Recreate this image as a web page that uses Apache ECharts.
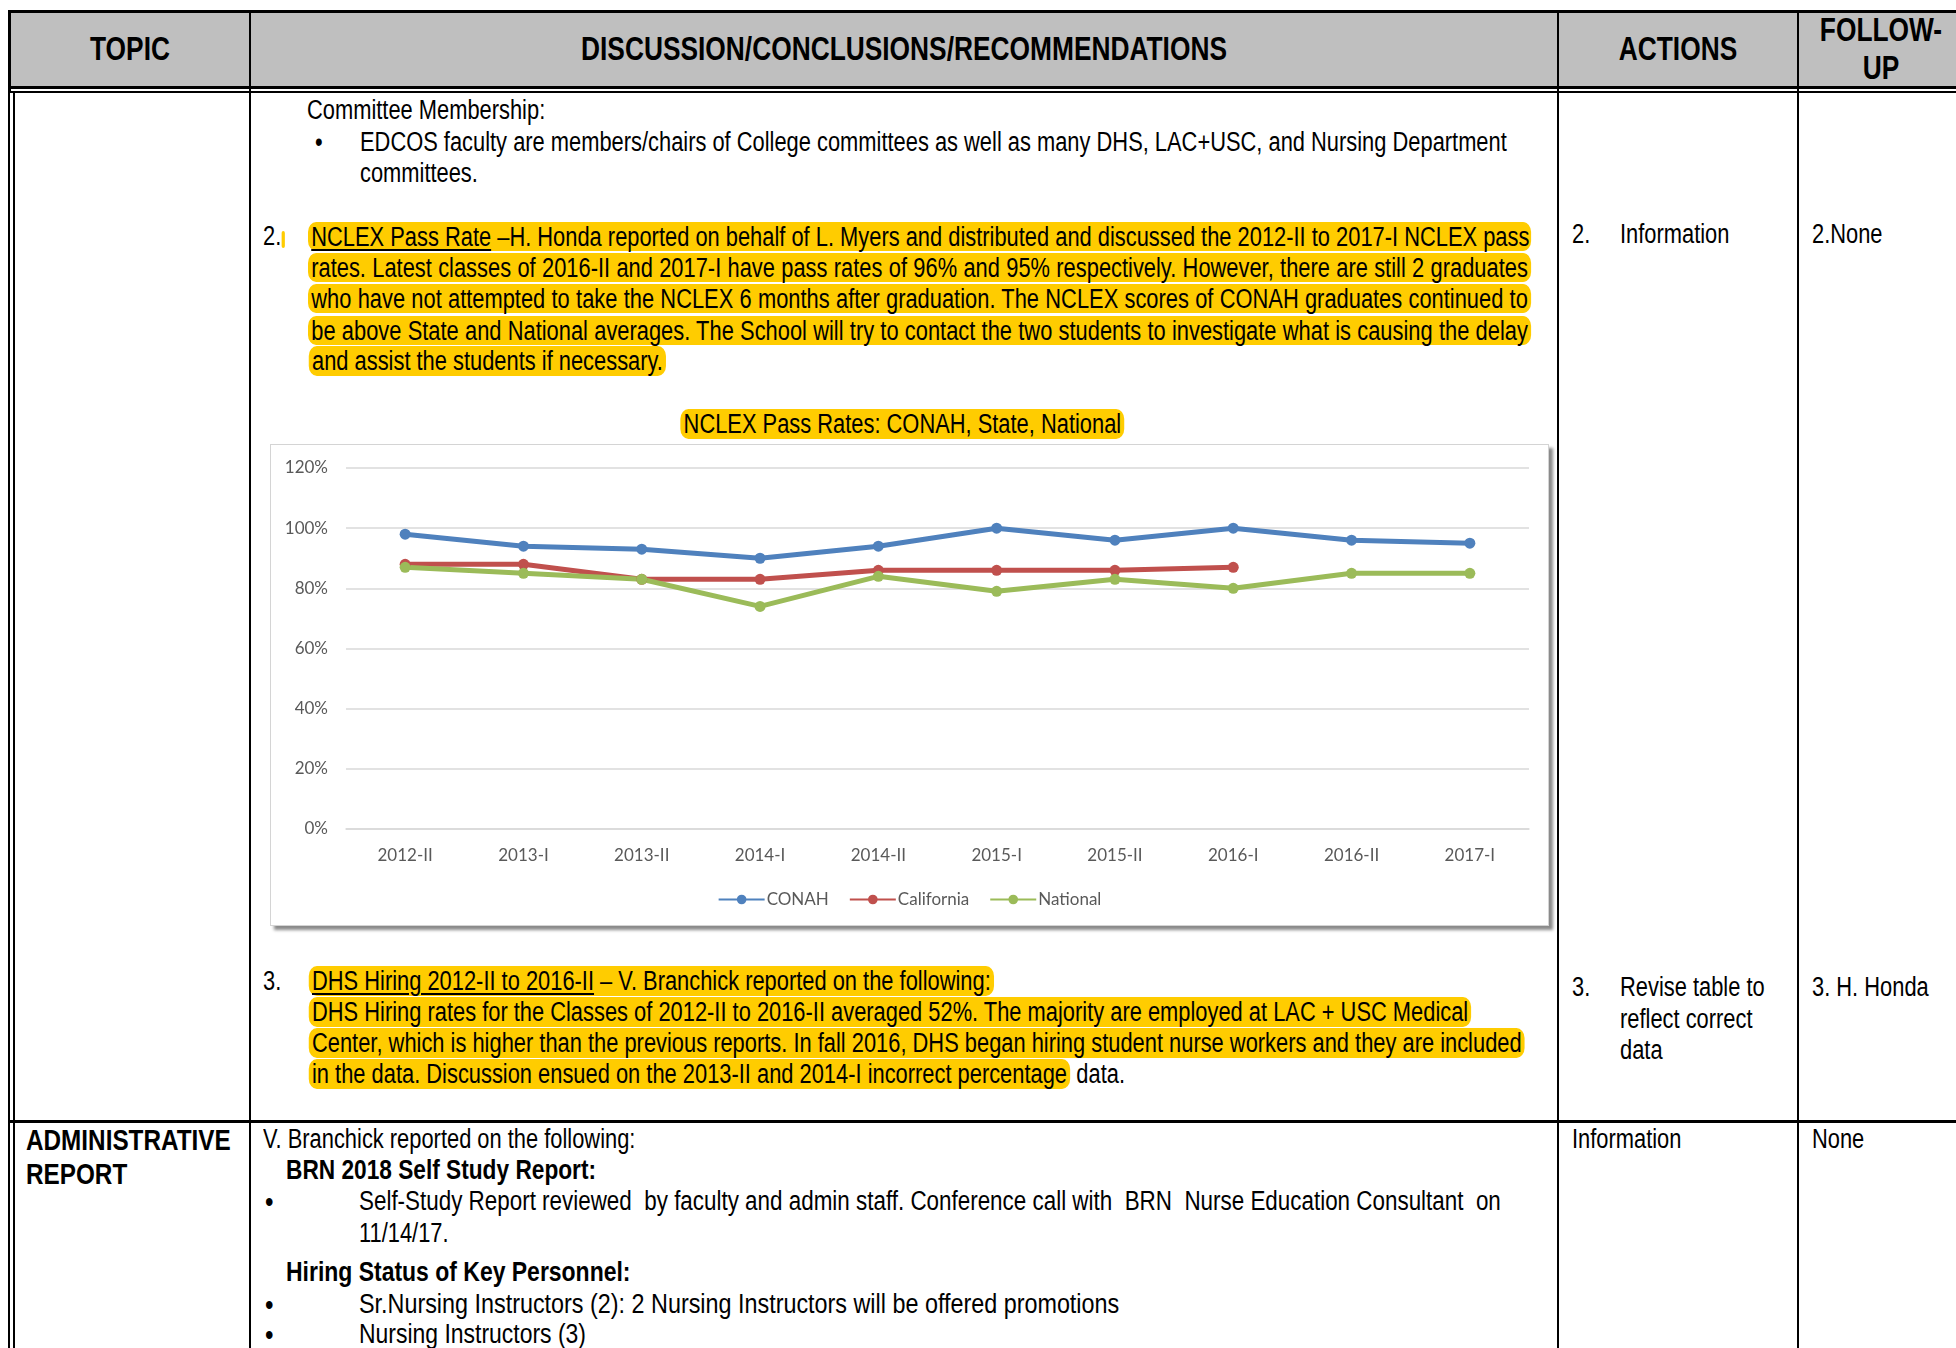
<!DOCTYPE html>
<html>
<head>
<meta charset="utf-8">
<script src="https://cdn.jsdelivr.net/npm/echarts@6/dist/echarts.min.js"></script>
<style>
  html, body { margin: 0; padding: 0; }
  body {
    width: 1956px; height: 1348px; overflow: hidden; position: relative;
    background: #fff;
    font-family: "Liberation Sans", Arial, sans-serif;
    font-size: 27px; color: #000;
  }
  .ln { position: absolute; background: #000; }
  /* narrow look: Arial Narrow is not installed, so squeeze Liberation Sans */
  .t {
    position: absolute; white-space: pre; line-height: 31px; height: 31px;
    transform: scaleX(0.81); transform-origin: 0 0;
  }
  .c { transform: translateX(-50%) scaleX(0.81); transform-origin: 50% 0; }
  .b { font-weight: bold; font-size: 28px; }
  .hd { font-weight: bold; font-size: 32.5px; }
  .hl { background: #ffcc00; border-radius: 10px; padding: 0 4px; margin-left: -4px; }
  .jl {
    white-space: nowrap; text-align: justify; text-align-last: justify;
    width: 1502px; background: #ffcc00; border-radius: 10px;
    padding: 0 4px; margin-left: -4px; height: 29px; line-height: 30px;
  }
  u { text-underline-offset: 3px; text-decoration-thickness: 2px; }
  #chart {
    position: absolute; left: 270px; top: 444px; width: 1277px; height: 480px;
    border: 1px solid #d4d4d4; box-shadow: 4px 4px 3px #8a8a8a; background: #fff;
  }
</style>
</head>
<body>
<!-- table frame -->
<div class="ln" style="left:10px;top:12px;width:1946px;height:74px;background:#bfbfbf"></div>
<div class="ln" style="left:8px;top:10px;width:1948px;height:3px"></div>
<div class="ln" style="left:8px;top:86px;width:1948px;height:3px"></div>
<div class="ln" style="left:8px;top:91px;width:1948px;height:2px"></div>
<div class="ln" style="left:8px;top:10px;width:3px;height:83px"></div>
<div class="ln" style="left:8px;top:91px;width:2px;height:1257px"></div>
<div class="ln" style="left:13px;top:91px;width:2px;height:1257px"></div>
<div class="ln" style="left:249px;top:10px;width:2px;height:1338px"></div>
<div class="ln" style="left:1557px;top:10px;width:2px;height:1338px"></div>
<div class="ln" style="left:1797px;top:10px;width:2px;height:1338px"></div>
<div class="ln" style="left:8px;top:1120px;width:1948px;height:3px"></div>

<!-- header -->
<div class="t hd c" style="left:130px;top:34px">TOPIC</div>
<div class="t hd c" style="left:904px;top:34px">DISCUSSION/CONCLUSIONS/RECOMMENDATIONS</div>
<div class="t hd c" style="left:1678px;top:34px">ACTIONS</div>
<div class="t hd c" style="left:1881px;top:15px">FOLLOW-</div>
<div class="t hd c" style="left:1881px;top:53px">UP</div>

<!-- row 1 -->
<div class="t" style="left:307px;top:95px">Committee Membership:</div>
<div class="t" style="left:315px;top:127px">•</div>
<div class="t" style="left:360px;top:127px">EDCOS faculty are members/chairs of College committees as well as many DHS, LAC+USC, and Nursing Department</div>
<div class="t" style="left:360px;top:158px">committees.</div>

<div class="t" style="left:263px;top:221px">2.<span style="background:#ffcc00;border-radius:6px;font-size:16px">&nbsp;</span></div>
<div class="t jl" style="left:312px;top:222px"><u>NCLEX Pass Rate</u> –H. Honda reported on behalf of L. Myers and distributed and discussed the 2012-II to 2017-I NCLEX pass</div>
<div class="t jl" style="left:312px;top:253px">rates. Latest classes of 2016-II and 2017-I have pass rates of 96% and 95% respectively. However, there are still 2 graduates</div>
<div class="t jl" style="left:312px;top:284px">who have not attempted to take the NCLEX 6 months after graduation. The NCLEX scores of CONAH graduates continued to</div>
<div class="t jl" style="left:312px;top:316px">be above State and National averages. The School will try to contact the two students to investigate what is causing the delay</div>
<div class="t" style="left:312px;top:346px"><span class="hl">and assist the students if necessary.</span></div>

<div class="t c" style="left:904px;top:409px"><span class="hl">NCLEX Pass Rates: CONAH, State, National</span></div>
<div id="chart"></div>

<div class="t" style="left:263px;top:966px">3.</div>
<div class="t" style="left:312px;top:966px"><span class="hl"><u>DHS Hiring 2012-II to 2016-II</u> – V. Branchick reported on the following:</span></div>
<div class="t" style="left:312px;top:997px"><span class="hl">DHS Hiring rates for the Classes of 2012-II to 2016-II averaged 52%. The majority are employed at LAC + USC Medical</span></div>
<div class="t" style="left:312px;top:1028px"><span class="hl">Center, which is higher than the previous reports. In fall 2016, DHS began hiring student nurse workers and they are included</span></div>
<div class="t" style="left:312px;top:1059px"><span class="hl">in the data. Discussion ensued on the 2013-II and 2014-I incorrect percentage</span> data.</div>

<div class="t" style="left:1572px;top:219px">2.</div>
<div class="t" style="left:1620px;top:219px">Information</div>
<div class="t" style="left:1812px;top:219px">2.None</div>
<div class="t" style="left:1572px;top:972px">3.</div>
<div class="t" style="left:1620px;top:972px">Revise table to</div>
<div class="t" style="left:1620px;top:1004px">reflect correct</div>
<div class="t" style="left:1620px;top:1035px">data</div>
<div class="t" style="left:1812px;top:972px">3. H. Honda</div>

<!-- row 2 -->
<div class="t b" style="left:26px;top:1124px;font-size:30px">ADMINISTRATIVE</div>
<div class="t b" style="left:26px;top:1158px;font-size:30px">REPORT</div>
<div class="t" style="left:263px;top:1124px">V. Branchick reported on the following:</div>
<div class="t b" style="left:286px;top:1154px">BRN 2018 Self Study Report:</div>
<div class="t" style="left:265px;top:1186px;font-size:30px">•</div>
<div class="t" style="left:359px;top:1186px;transform:scaleX(0.83)">Self-Study Report reviewed  by faculty and admin staff. Conference call with  BRN  Nurse Education Consultant  on</div>
<div class="t" style="left:359px;top:1218px">11/14/17.</div>
<div class="t b" style="left:286px;top:1256px;transform:scaleX(0.82)">Hiring Status of Key Personnel:</div>
<div class="t" style="left:265px;top:1289px;font-size:30px">•</div>
<div class="t" style="left:359px;top:1289px;transform:scaleX(0.865)">Sr.Nursing Instructors (2): 2 Nursing Instructors will be offered promotions</div>
<div class="t" style="left:265px;top:1319px;font-size:30px">•</div>
<div class="t" style="left:359px;top:1319px;transform:scaleX(0.85)">Nursing Instructors (3)</div>
<div class="t" style="left:1572px;top:1124px">Information</div>
<div class="t" style="left:1812px;top:1124px">None</div>

<script>
const categories = ['2012-II', '2013-I', '2013-II', '2014-I', '2014-II', '2015-I', '2015-II', '2016-I', '2016-II', '2017-I'];
const conah = [98, 94, 93, 90, 94, 100, 96, 100, 96, 95];
const california = [88, 88, 83, 83, 86, 86, 86, 87, null, null];
const national = [87, 85, 83, 74, 84, 79, 83, 80, 85, 85];
const yMin = 0, yMax = 120, yStep = 20;

const chart = echarts.init(document.getElementById('chart'));

const labelFont = {
  fontFamily: 'Lato, "Open Sans", sans-serif',
  fontSize: 17,
  color: '#595959',
};

function lineSeries(name, data, color) {
  return {
    name: name,
    type: 'line',
    data: data,
    symbol: 'circle',
    symbolSize: 11,
    lineStyle: { width: 5, color: color },
    itemStyle: { color: color },
    connectNulls: false,
  };
}

chart.setOption({
  animation: false,
  grid: { left: 75, right: 19, top: 23, bottom: 96 },
  legend: {
    bottom: 12,
    left: 'center',
    itemWidth: 46,
    itemHeight: 12,
    itemGap: 20,
    textStyle: Object.assign({ padding: [0, 0, 0, -3] }, labelFont),
    data: ['CONAH', 'California', 'National'],
  },
  xAxis: {
    type: 'category',
    data: categories,
    boundaryGap: true,
    axisLine: { lineStyle: { color: '#d9d9d9', width: 1.5 } },
    axisTick: { show: false },
    axisLabel: Object.assign({ margin: 18 }, labelFont),
  },
  yAxis: {
    type: 'value',
    min: yMin,
    max: yMax,
    interval: yStep,
    axisLine: { show: false },
    axisTick: { show: false },
    splitLine: { lineStyle: { color: '#d9d9d9', width: 1.5 } },
    axisLabel: Object.assign({ margin: 18, formatter: '{value}%' }, labelFont),
  },
  series: [
    lineSeries('CONAH', conah, '#4f81bd'),
    lineSeries('California', california, '#c0504d'),
    lineSeries('National', national, '#9bbb59'),
  ],
});
</script>
</body>
</html>
